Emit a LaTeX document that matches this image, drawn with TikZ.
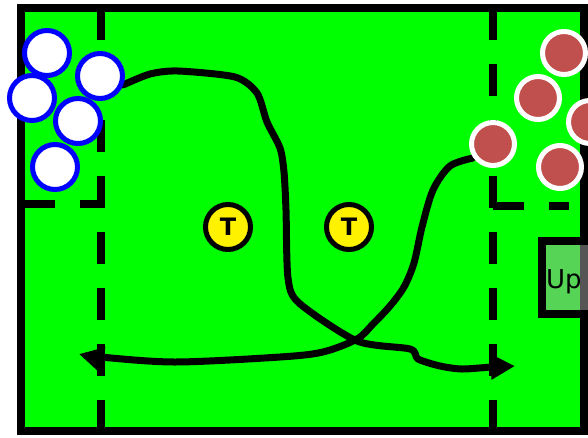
\documentclass[tikz,border=0pt]{standalone}
\usepackage{fontspec}
\newfontfamily\dv{DejaVu Sans}
\usetikzlibrary{arrows.meta}
\definecolor{field}{HTML}{00FF00}
\definecolor{redball}{HTML}{C0504D}
\definecolor{boxfill}{HTML}{AAAAAA}
\tikzset{
  blueball/.style={circle, draw=blue, fill=white, line width=5pt, minimum size=45pt, inner sep=0pt},
  redb/.style={circle, draw=white, fill=redball, line width=5pt, minimum size=43pt, inner sep=0pt},
  tball/.style={circle, draw=black, fill=yellow, line width=5pt, minimum size=45pt, inner sep=0pt, font=\dv\bfseries\fontsize{24}{24}\selectfont},
  zone/.style={line width=8pt, dash pattern=on 32pt off 24pt},
  run/.style={line width=7pt, line cap=round, line join=round},
  tipend/.style={-{Triangle[length=24pt,width=24pt]}}
}
\begin{document}
\begin{tikzpicture}[x=1pt,y=-1pt]
\path[use as bounding box, fill=white] (0,0) rectangle (588,437);
\clip (0,0) rectangle (588,437);
% field
\fill[field] (21,8) rectangle (584,431);
\draw[line width=8pt] (21,8) rectangle (584,431);
% zone lines
\draw[zone] (101,8) -- (101,431);
\draw[zone] (493,8) -- (493,431);
\draw[line width=8pt, dash pattern=on 34pt off 25pt] (21,204) -- (101,204);
\draw[line width=8pt, dash pattern=on 31pt off 25pt] (493,206) -- (569,206);
% runs
\draw[run, tipend] plot[smooth, tension=0.45] coordinates {(123,85) (150,74) (178,71) (235,77) (257,93) (267,122) (280,148) (284,172) (286,210) (288,278) (299,303) (357,341) (410,349) (418,359) (440,366) (462,369) (492,367) (515,366)};
\draw[run, tipend] plot[smooth, tension=0.5] coordinates {(473,158) (450,166) (433,190) (422,227) (414,263) (404,287) (390,306) (373,324) (357,339) (323,352) (280,357) (175,362) (100,357) (79,354)};
% blue players
\node[blueball] (b1) at (47,53) {};
\node[blueball] (b2) at (100,76) {};
\node[blueball] (b3) at (32,98) {};
\node[blueball] (b4) at (78,121) {};
\node[blueball] (b5) at (55,167) {};
% red players
\node[redb] (r1) at (564,53) {};
\node[redb] (r2) at (538,98) {};
\node[redb] (r3) at (590,122) {};
\node[redb] (r4) at (493,144) {};
\node[redb] (r5) at (560,167) {};
% T markers
\node[tball] (t1) at (228,227) {T};
\node[tball] (t2) at (349,227) {T};
% Up box
\draw[line width=8pt, fill=boxfill, fill opacity=0.5] (542,241) rectangle (640,314);
\node[anchor=base west, inner sep=0pt, font=\dv\fontsize{26}{26}\selectfont] (up) at (546,288) {Up};
\end{tikzpicture}
\end{document}
